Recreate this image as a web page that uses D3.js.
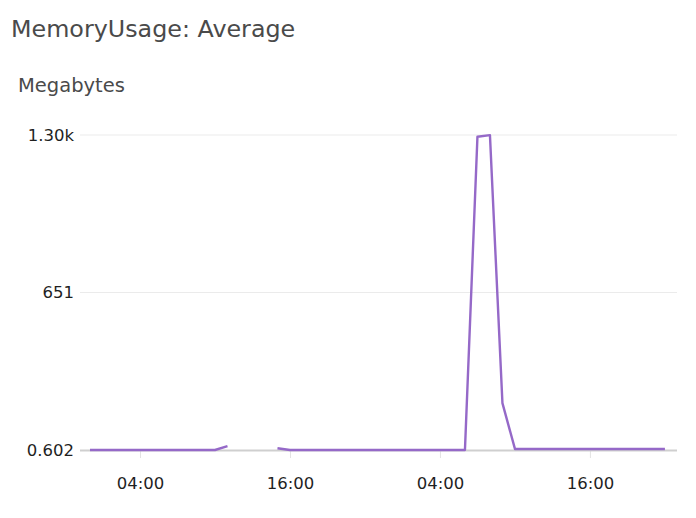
<!DOCTYPE html>
<html>
<head>
<meta charset="utf-8">
<script src="https://cdn.jsdelivr.net/npm/d3@7"></script>
<style>
  body { margin: 0; background: #fff; }
  svg { display: block; font-family: "DejaVu Sans", sans-serif; }
</style>
</head>
<body>
<div id="chart"></div>
<script>
"use strict";

var width = 696;
var height = 518;

// hourly averages, day 1 then day 2 (null = no data)
var day1Values = [0.602, 0.602, 0.602, 0.602, 0.602, 0.602, 0.602, 0.602, 0.602, 0.602, 0.602, 16.5,
  null, null, null, 8, 0.602, 0.602, 0.602, 0.602, 0.602, 0.602, 0.602, 0.602];
var day2Values = [0.602, 0.602, 0.602, 0.602, 0.602, 0.602, 0.602, 1294, 1301, 194, 5, 5,
  5, 5, 5, 5, 5, 5, 5, 5, 5, 5, 5];
var yTicks = [0.602, 651, 1301.4];
var yTickLabels = ["0.602", "651", "1.30k"];
var xTicks = ["2023-05-01T04:00", "2023-05-01T16:00", "2023-05-02T04:00", "2023-05-02T16:00"];
var xDomain = ["2023-04-30T23:12", "2023-05-02T22:58"];

var parse = d3.timeParse("%Y-%m-%dT%H:%M");

var data = [];
day1Values.forEach(function (v, i) {
  data.push({ t: new Date(2023, 4, 1, i), v: v });
});
day2Values.forEach(function (v, i) {
  data.push({ t: new Date(2023, 4, 2, i), v: v });
});

var margin = { left: 80, right: 19, top: 135, bottom: 68 };

var x = d3.scaleTime()
  .domain(xDomain.map(parse))
  .range([margin.left, width - margin.right]);

var y = d3.scaleLinear()
  .domain([yTicks[0], yTicks[2]])
  .range([height - margin.bottom, margin.top]);

var svg = d3.select("#chart").append("svg")
  .attr("width", width)
  .attr("height", height);

svg.append("text")
  .attr("x", 11).attr("y", 37)
  .attr("font-size", 23.8)
  .attr("fill", "#4a4a4a")
  .text("MemoryUsage: Average");

svg.append("text")
  .attr("x", 18).attr("y", 92)
  .attr("font-size", 19.5)
  .attr("fill", "#4a4a4a")
  .text("Megabytes");

// grid lines
svg.append("g").selectAll("line").data(yTicks.slice(1)).enter().append("line")
  .attr("x1", margin.left).attr("x2", width - margin.right)
  .attr("y1", function (d) { return y(d); })
  .attr("y2", function (d) { return y(d); })
  .attr("stroke", "#ebebeb")
  .attr("stroke-width", 1);

// y labels
svg.append("g").selectAll("text").data(yTicks).enter().append("text")
  .attr("x", 74)
  .attr("y", function (d) { return y(d); })
  .attr("dy", "0.36em")
  .attr("text-anchor", "end")
  .attr("font-size", 16.5)
  .attr("fill", "#1f1f1f")
  .text(function (d, i) { return yTickLabels[i]; });

// x axis
var xAxis = d3.axisBottom(x)
  .tickValues(xTicks.map(parse))
  .tickFormat(d3.timeFormat("%H:%M"))
  .tickSize(7)
  .tickPadding(19);

var gx = svg.append("g")
  .attr("transform", "translate(0," + (y(yTicks[0]) + 1) + ")")
  .call(xAxis);
gx.select(".domain").remove();
gx.selectAll(".tick line").attr("stroke", "#e3e3e3").attr("stroke-width", 1);
gx.selectAll(".tick text")
  .attr("font-size", 16.5)
  .attr("font-family", "'DejaVu Sans', sans-serif")
  .attr("fill", "#1f1f1f");

// baseline
svg.append("line")
  .attr("x1", margin.left).attr("x2", width - margin.right)
  .attr("y1", y(yTicks[0]) + 0.5).attr("y2", y(yTicks[0]) + 0.5)
  .attr("stroke", "#cfcfcf")
  .attr("stroke-width", 2);

var line = d3.line()
  .defined(function (d) { return d.v !== null; })
  .x(function (d) { return x(d.t); })
  .y(function (d) { return y(d.v); });

svg.append("path")
  .datum(data)
  .attr("fill", "none")
  .attr("stroke", "#9569c8")
  .attr("stroke-width", 2.4)
  .attr("stroke-linejoin", "round")
  .attr("d", line);
</script>
</body>
</html>
